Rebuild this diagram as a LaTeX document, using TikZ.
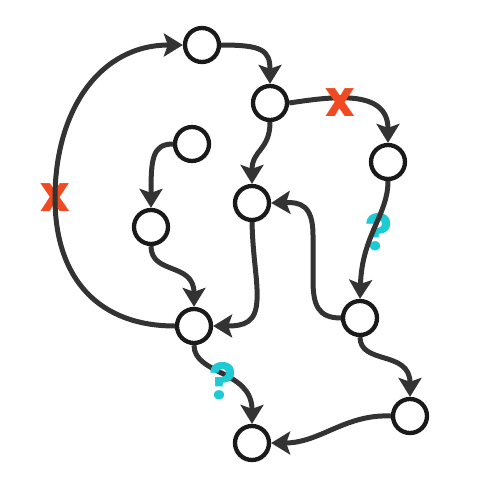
\documentclass[tikz,border=0pt]{standalone}
\usepackage{fontspec}
\setmainfont{Poppins}
\usetikzlibrary{arrows.meta}
\definecolor{edgec}{HTML}{333333}
\definecolor{nodec}{HTML}{1A1A1A}
\definecolor{xred}{HTML}{F04A23}
\definecolor{qcyan}{HTML}{1ECAD3}
\begin{document}
\begin{tikzpicture}[x=1pt,y=-1pt,
  vtx/.style={circle,draw=nodec,line width=4.3pt,fill=white,minimum size=34pt,inner sep=0pt},
  edge/.style={draw=edgec,line width=5pt,-{Stealth[length=19pt,width=23pt,inset=4pt]}},
  xmark/.style={text=xred,font=\fontsize{50}{50}\selectfont\bfseries,inner sep=0pt},
  qmark/.style={text=qcyan,font=\fontsize{50}{50}\selectfont\bfseries,inner sep=0pt}]
\useasboundingbox (0,0) rectangle (499,491);
% nodes
\node[vtx] (a) at (202,45) {};
\node[vtx] (b) at (270,103) {};
\node[vtx] (c) at (388,162) {};
\node[vtx] (d) at (192,144) {};
\node[vtx] (e) at (252,203) {};
\node[vtx] (f) at (151,227) {};
\node[vtx] (g) at (194,326) {};
\node[vtx] (h) at (360,318) {};
\node[vtx] (i) at (410,416) {};
\node[vtx] (j) at (252,443) {};
% labels under edges
\node[xmark] (x1) at (55,198) {x};
\node[qmark] (q1) at (379,232) {?};
\coordinate (loop) at (55,198);
% edges
\draw[edge] (g.west) .. controls (100,326) and (55,280) .. (loop) .. controls (55,110) and (100,45) .. (a.west);
\draw[edge] (a.east) .. controls (262,45) and (270,50) .. (b.north);
\draw[edge] (b.east) .. controls (330,97) and (388,88) .. (c.north);
\draw[edge] (b.south) .. controls (270,150) and (252,150) .. (e.north);
\draw[edge] (d.west) .. controls (152,144) and (151,160) .. (f.north);
\draw[edge] (f.south) .. controls (151,275) and (194,262) .. (g.north);
\draw[edge] (e.south) .. controls (253,260) and (258,280) .. (257,300) .. controls (256,322) and (245,326) .. (g.east);
\draw[edge] (h.west) .. controls (318,318) and (313,305) .. (313,280) -- (313,235) .. controls (313,205) and (300,202) .. (e.east);
\draw[edge] (c.south) .. controls (388,215) and (362,235) .. (h.north);
\draw[edge] (h.south) .. controls (360,365) and (410,350) .. (i.north);
\draw[edge] (i.west) .. controls (345,414) and (320,443) .. (j.east);
\draw[edge] (g.south) .. controls (194,375) and (252,370) .. (j.north);
% labels over edges
\node[xmark] (x2) at (340,103) {x};
\node[qmark] (q2) at (223,381) {?};
\end{tikzpicture}
\end{document}
